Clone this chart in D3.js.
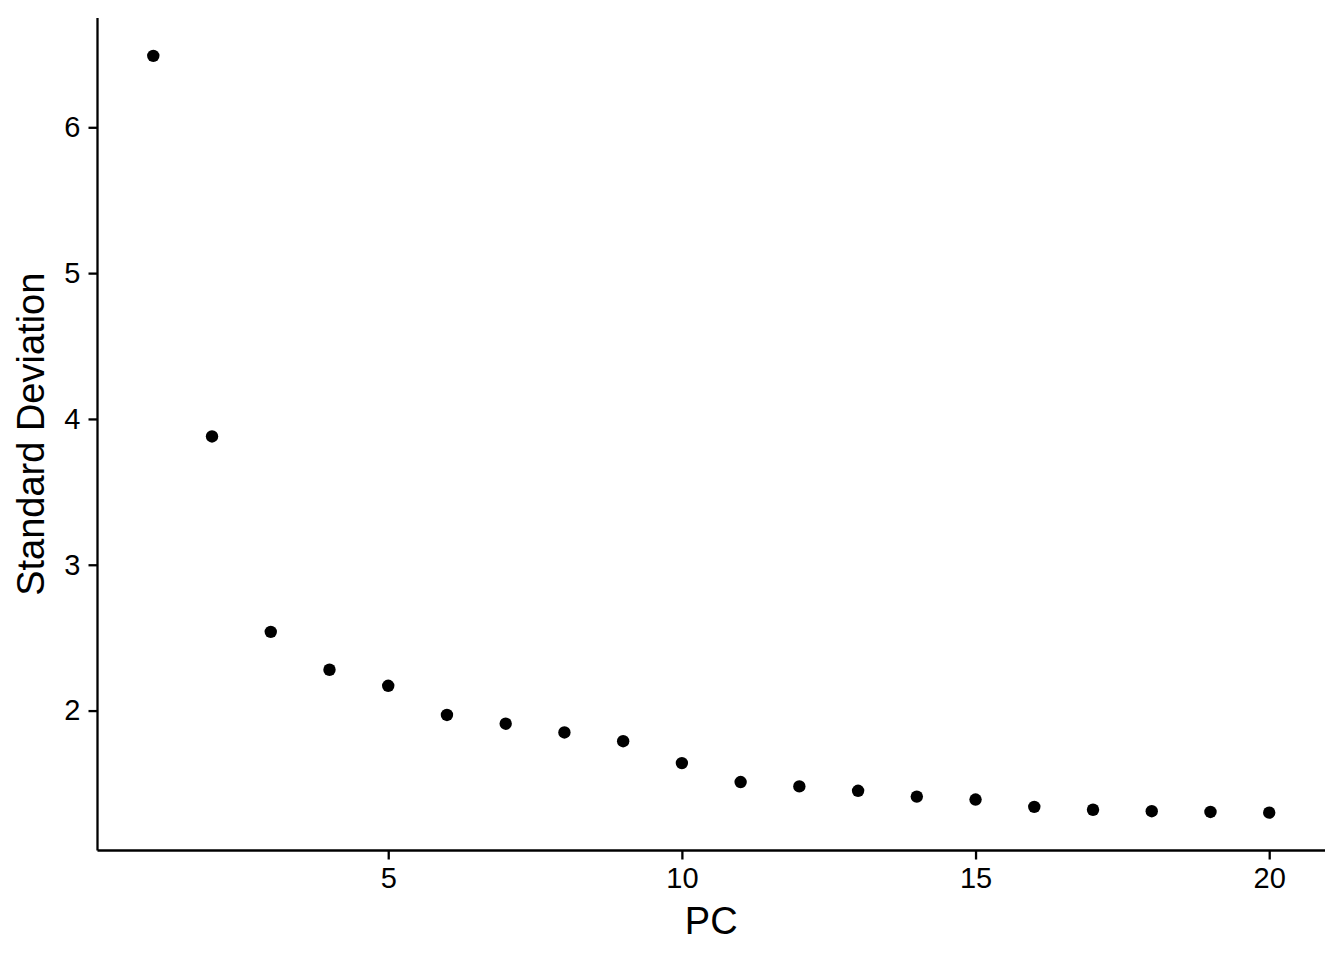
<!DOCTYPE html>
<html>
<head>
<meta charset="utf-8">
<script src="https://cdn.jsdelivr.net/npm/d3@7"></script>
<style>
  html, body { margin: 0; padding: 0; background: #fff; }
  svg { display: block; }
  text { font-family: "Liberation Sans", Arial, Helvetica, sans-serif; fill: #000; }
</style>
</head>
<body>
<svg id="chart" width="1344" height="960"></svg>
<script>
const pcs = [1,2,3,4,5,6,7,8,9,10,11,12,13,14,15,16,17,18,19,20];
const stdev = [6.49,3.88,2.54,2.28,2.17,1.97,1.91,1.85,1.79,1.64,1.51,1.48,1.45,1.41,1.39,1.34,1.32,1.31,1.305,1.30];
const xTicks = [5,10,15,20];
const yTicks = [2,3,4,5,6];
const xLabel = "PC";
const yLabel = "Standard Deviation";

(function () {
const svg = d3.select("#chart");
const pLeft = 97.5, pRight = 1325, pTop = 18, pBottom = 850.5;

function expand(ext) { const d = (ext[1]-ext[0])*0.05; return [ext[0]-d, ext[1]+d]; }

const x = d3.scaleLinear().domain(expand(d3.extent(pcs))).range([pLeft, pRight]);
const y = d3.scaleLinear().domain(expand(d3.extent(stdev))).range([pBottom, pTop]);

const tickFont = 29, titleFont = 38;

// x axis
const gx = svg.append("g").attr("transform", `translate(0,${pBottom})`)
  .call(d3.axisBottom(x).tickValues(xTicks).tickSize(9).tickPadding(8).tickFormat(d3.format("d")));
gx.select(".domain").attr("stroke", "#000").attr("stroke-width", 2.3).attr("d", `M${pLeft},0H${pRight}`);
gx.selectAll(".tick line").attr("stroke", "#000").attr("stroke-width", 2.3);
gx.selectAll(".tick text").attr("font-size", tickFont).attr("fill", "#000")
  .attr("font-family", '"Liberation Sans", Arial, sans-serif');

// y axis
const gy = svg.append("g").attr("transform", `translate(${pLeft},0)`)
  .call(d3.axisLeft(y).tickValues(yTicks).tickSize(9).tickPadding(8).tickFormat(d3.format("d")));
gy.select(".domain").attr("stroke", "#000").attr("stroke-width", 2.3).attr("d", `M0,${pTop}V${pBottom}`);
gy.selectAll(".tick line").attr("stroke", "#000").attr("stroke-width", 2.3);
gy.selectAll(".tick text").attr("font-size", tickFont).attr("fill", "#000")
  .attr("font-family", '"Liberation Sans", Arial, sans-serif');

// points
svg.append("g").selectAll("circle").data(pcs).join("circle")
  .attr("cx", (d) => x(d))
  .attr("cy", (d, i) => y(stdev[i]))
  .attr("r", 6.2)
  .attr("fill", "#000");

// titles
svg.append("text").attr("x", (pLeft+pRight)/2).attr("y", 934)
  .attr("text-anchor", "middle").attr("font-size", titleFont).text(xLabel);
svg.append("text").attr("transform", `translate(44,${(pTop+pBottom)/2}) rotate(-90)`)
  .attr("text-anchor", "middle").attr("font-size", titleFont).text(yLabel);
})();
</script>
</body>
</html>
